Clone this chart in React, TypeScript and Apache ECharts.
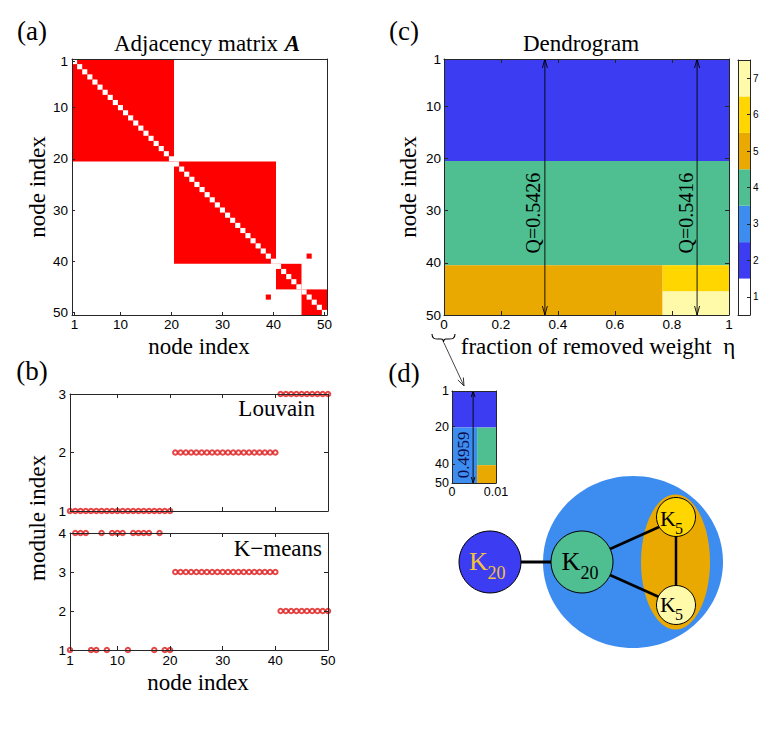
import React, { useEffect, useRef } from 'react';
import * as echarts from 'echarts';

const SERIF = '"Liberation Serif", "Times New Roman", serif';
const SANS = '"Liberation Sans", Arial, sans-serif';
const AX = '#262626';

// ---------------- data ----------------
const nodeIndex = Array.from({ length: 50 }, (_, i) => i + 1);
const nodeTicks = [1, 10, 20, 30, 40, 50];
const insetTicks = [1, 20, 40, 50];

// adjacency matrix: fully connected blocks (no self loops) + extra edges
const adjacencyBlocks = [[1, 20], [21, 40], [41, 45], [46, 50]];
const extraEdges = [[39, 47], [47, 39]];

// module assignments per node (nodes 1..50)
const louvainModules = [
  1, 1, 1, 1, 1, 1, 1, 1, 1, 1, 1, 1, 1, 1, 1, 1, 1, 1, 1, 1,
  2, 2, 2, 2, 2, 2, 2, 2, 2, 2, 2, 2, 2, 2, 2, 2, 2, 2, 2, 2,
  3, 3, 3, 3, 3, 3, 3, 3, 3, 3,
];
const kmeansModules = [
  1, 4, 4, 4, 1, 1, 4, 1, 4, 4, 4, 1, 4, 4, 4, 4, 1, 4, 1, 1,
  3, 3, 3, 3, 3, 3, 3, 3, 3, 3, 3, 3, 3, 3, 3, 3, 3, 3, 3, 3,
  2, 2, 2, 2, 2, 2, 2, 2, 2, 2,
];

// colour levels of the dendrogram colour bar
const moduleLevels = [1, 2, 3, 4, 5, 6, 7];
const levelColors = ['#ffffff', '#3c3cf3', '#3d8cf0', '#4fbf91', '#eaa900', '#ffd600', '#fffaaa'];

// dendrogram: [etaStart, etaEnd, firstNode, lastNode, level]
const dendroSegments = [
  [0, 1, 1, 20, 2],
  [0, 1, 21, 40, 4],
  [0, 0.767, 41, 50, 5],
  [0.767, 1, 41, 45, 6],
  [0.767, 1, 46, 50, 7],
];
// cuts: [eta, Q]
const qCuts = [[0.354, 0.5426], [0.888, 0.5416]];

// inset (first 1% of eta)
const insetSegments = [
  [0, 0.01, 1, 20, 2],
  [0, 0.0057, 21, 50, 3],
  [0.0057, 0.01, 21, 40, 4],
  [0.0057, 0.01, 41, 50, 5],
];
const insetCuts = [[0.0048, 0.4959]];

// ---------------- helpers ----------------
function axis(gridIndex: number, position: string, min: number, max: number, o: any = {}) {
  const ax: any = {
    type: 'value', gridIndex, position, min, max, z: 10,
    inverse: !!o.inverse,
    axisLine: { show: true, onZero: false, lineStyle: { color: AX, width: 1 } },
    axisTick: { show: o.ticks !== false, inside: true, length: o.tickLen ?? 4, lineStyle: { color: AX, width: 1 } },
    axisLabel: { show: !!o.labels, color: '#000', fontFamily: SANS, fontSize: o.fontSize ?? 13.5, margin: o.margin ?? 2 },
    splitLine: { show: false },
  };
  if (o.interval !== undefined) ax.interval = o.interval;
  if (o.values) {
    ax.axisTick.customValues = o.values;
    ax.axisLabel.customValues = o.values;
  }
  return ax;
}

function rectBetween(api: any, x0: number, x1: number, y0: number, y1: number, fill: string) {
  const a = api.coord([x0, y0]);
  const b = api.coord([x1, y1]);
  return {
    type: 'rect',
    shape: { x: Math.min(a[0], b[0]), y: Math.min(a[1], b[1]), width: Math.abs(b[0] - a[0]), height: Math.abs(b[1] - a[1]) },
    style: { fill },
  };
}

function segmentSeries(data: number[][], xi: number, yi: number) {
  return {
    type: 'custom', xAxisIndex: xi, yAxisIndex: yi, data, clip: false,
    renderItem: (_p: any, api: any) => {
      const n0 = Math.max(1, api.value(2) - 0.5);
      const n1 = Math.min(50, api.value(3) + 0.5);
      return rectBetween(api, api.value(0), api.value(1), n0, n1, levelColors[api.value(4) - 1]);
    },
  };
}

function cutSeries(data: number[][], xi: number, yi: number, prefix: string, fontSize: number, textNode: number, ah: number, aw: number, color: string) {
  return {
    type: 'custom', xAxisIndex: xi, yAxisIndex: yi, data, clip: false, z: 5,
    renderItem: (_p: any, api: any) => {
      const eta = api.value(0);
      const q = api.value(1);
      const top = api.coord([eta, 1]);
      const bot = api.coord([eta, 50]);
      const mid = api.coord([eta, textNode]);
      const st = { stroke: '#000', fill: 'none', lineWidth: 0.9 };
      return {
        type: 'group',
        children: [
          { type: 'line', shape: { x1: top[0], y1: top[1], x2: bot[0], y2: bot[1] }, style: st },
          { type: 'polyline', shape: { points: [[top[0] - aw, top[1] + ah], [top[0], top[1]], [top[0] + aw, top[1] + ah]] }, style: st },
          { type: 'polyline', shape: { points: [[bot[0] - aw, bot[1] - ah], [bot[0], bot[1]], [bot[0] + aw, bot[1] - ah]] }, style: st },
          {
            type: 'text', x: mid[0] - 1.5, y: mid[1], rotation: Math.PI / 2,
            style: { text: prefix + q.toFixed(4), fontFamily: SERIF, fontSize, fill: color, align: 'center', verticalAlign: 'bottom' },
          },
        ],
      };
    },
  };
}

function label(text: string, x: number, y: number, size = 23, extra: any = {}) {
  const { rotation, align, ...st } = extra;
  return {
    type: 'text', x, y, rotation: rotation || 0, z: 20,
    style: { text, fontFamily: SERIF, fontSize: size, fill: '#000', align: align || 'center', verticalAlign: 'middle', ...st },
  };
}

echarts.graphic.registerShape(
  'brace',
  echarts.graphic.extendPath('M0,0 C0,5 3,5 6,5 L9,5 C11,5 11.5,6 11.5,8.5 C11.5,6 12,5 14,5 L17,5 C20,5 23,5 23,0', {})
);

export default function App() {
  const ref = useRef<HTMLDivElement>(null);

  useEffect(() => {
    if (!ref.current) return;
    const chart = echarts.init(ref.current, undefined, { renderer: 'svg' });

    const grids = [
      { left: 72, top: 59, width: 255, height: 256 }, // (a)
      { left: 444, top: 59, width: 285, height: 256 }, // (c)
      { left: 70, top: 394, width: 258, height: 117 }, // (b) Louvain
      { left: 70, top: 533, width: 258, height: 117 }, // (b) K-means
      { left: 452, top: 391, width: 44, height: 92 }, // (d) inset
      { left: 738, top: 60, width: 12, height: 255 }, // colour bar
    ].map((g) => ({ ...g, containLabel: false, outerBoundsMode: 'none' }));

    const xAxis = [
      axis(0, 'bottom', 0.5, 50.5, { labels: true, values: nodeTicks, tickLen: 3 }),
      axis(0, 'top', 0.5, 50.5, { ticks: false }),
      axis(1, 'bottom', 0, 1, { labels: true, interval: 0.2 }),
      axis(1, 'top', 0, 1, { interval: 0.2 }),
      axis(2, 'bottom', 1, 50, { values: nodeTicks }),
      axis(2, 'top', 1, 50, { values: nodeTicks }),
      axis(3, 'bottom', 1, 50, { labels: true, values: nodeTicks, margin: 3 }),
      axis(3, 'top', 1, 50, { values: nodeTicks }),
      axis(4, 'bottom', 0, 0.01, { labels: true, interval: 0.01, fontSize: 12.5, tickLen: 3, margin: 2 }),
      axis(4, 'top', 0, 0.01, { ticks: false }),
      axis(5, 'bottom', 0, 1, { ticks: false }),
      axis(5, 'top', 0, 1, { ticks: false }),
    ];
    const yAxis = [
      axis(0, 'left', 0.5, 50.5, { labels: true, values: nodeTicks, inverse: true, tickLen: 3, margin: 4 }),
      axis(0, 'right', 0.5, 50.5, { ticks: false, inverse: true }),
      axis(1, 'left', 1, 50, { labels: true, values: nodeTicks, inverse: true, margin: 3 }),
      axis(1, 'right', 1, 50, { values: nodeTicks, inverse: true }),
      axis(2, 'left', 1, 3, { labels: true, interval: 1, margin: 4 }),
      axis(2, 'right', 1, 3, { interval: 1 }),
      axis(3, 'left', 1, 4, { labels: true, interval: 1, margin: 4 }),
      axis(3, 'right', 1, 4, { interval: 1 }),
      axis(4, 'left', 1, 50, { labels: true, values: insetTicks, inverse: true, fontSize: 12.5, margin: 3, tickLen: 3 }),
      axis(4, 'right', 1, 50, { ticks: false, inverse: true }),
      axis(5, 'right', 0.5, 7.5, { labels: true, values: moduleLevels, fontSize: 10, margin: 3, tickLen: 3 }),
      axis(5, 'left', 0.5, 7.5, { ticks: false }),
    ];

    const series: any[] = [
      // (a) adjacency blocks
      {
        type: 'custom', xAxisIndex: 0, yAxisIndex: 0, data: adjacencyBlocks, clip: false,
        renderItem: (_p: any, api: any) => {
          const s = api.value(0), e = api.value(1);
          return rectBetween(api, s - 0.5, e + 0.5, s - 0.5, e + 0.5, '#ff0000');
        },
      },
      {
        type: 'custom', xAxisIndex: 0, yAxisIndex: 0, data: nodeIndex.map((n) => [n, n]), clip: false,
        renderItem: (_p: any, api: any) => {
          const n = api.value(0);
          return rectBetween(api, n - 0.5, n + 0.5, n - 0.5, n + 0.5, '#ffffff');
        },
      },
      {
        type: 'custom', xAxisIndex: 0, yAxisIndex: 0, data: extraEdges, clip: false,
        renderItem: (_p: any, api: any) => {
          const i = api.value(0), j = api.value(1);
          return rectBetween(api, j - 0.5, j + 0.5, i - 0.5, i + 0.5, '#ff0000');
        },
      },
      // (c) dendrogram
      segmentSeries(dendroSegments, 2, 2),
      cutSeries(qCuts, 2, 2, 'Q=', 20, 30.5, 9, 2.5, '#000'),
      // (b) module assignments
      {
        type: 'scatter', xAxisIndex: 4, yAxisIndex: 4, clip: false,
        data: nodeIndex.map((n, i) => [n, louvainModules[i]]),
        symbol: 'emptyCircle', symbolSize: 4.5,
        itemStyle: { color: '#e01818', borderWidth: 1 },
      },
      {
        type: 'scatter', xAxisIndex: 6, yAxisIndex: 6, clip: false,
        data: nodeIndex.map((n, i) => [n, kmeansModules[i]]),
        symbol: 'emptyCircle', symbolSize: 4.5,
        itemStyle: { color: '#e01818', borderWidth: 1 },
      },
      // (d) inset
      segmentSeries(insetSegments, 8, 8),
      cutSeries(insetCuts, 8, 8, '', 17, 35, 6, 1.8, '#0c0c4a'),
      // colour bar
      {
        type: 'custom', xAxisIndex: 10, yAxisIndex: 10, data: moduleLevels.map((l) => [0, l]), clip: false,
        renderItem: (_p: any, api: any) => {
          const l = api.value(1);
          return rectBetween(api, 0, 1, l - 0.5, l + 0.5, levelColors[l - 1]);
        },
      },
    ];

    // arrow from brace to inset
    const from = [444, 343];
    const to = [464, 386];
    const dx = to[0] - from[0], dy = to[1] - from[1];
    const len = Math.hypot(dx, dy);
    const ux = dx / len, uy = dy / len;
    const nx = -uy, ny = ux;
    const head = [
      [to[0] - 8 * ux + 3 * nx, to[1] - 8 * uy + 3 * ny],
      [to[0], to[1]],
      [to[0] - 8 * ux - 3 * nx, to[1] - 8 * uy - 3 * ny],
    ];

    const graphics: any[] = [
      label('(a)', 32, 31, 27),
      {
        type: 'text', x: 207, y: 43, z: 20,
        style: {
          text: '{n|Adjacency matrix}  {b|A}', align: 'center', verticalAlign: 'middle',
          rich: {
            n: { fontFamily: SERIF, fontSize: 23, fill: '#000', color: '#000' },
            b: { fontFamily: SERIF, fontSize: 23, fontStyle: 'italic', fontWeight: 'bold', fill: '#000', color: '#000' },
          },
        },
      },
      label('node index', 37, 187, 23, { rotation: Math.PI / 2 }),
      label('node index', 199, 346),
      label('(c)', 404, 31, 27),
      label('Dendrogram', 581, 43),
      label('node index', 408, 187, 23, { rotation: Math.PI / 2 }),
      label('fraction of removed weight  \u03b7', 598, 346),
      label('(b)', 32, 371, 27),
      label('module index', 37, 518, 23, { rotation: Math.PI / 2 }),
      label('node index', 198, 682),
      label('Louvain', 315, 408, 23, { align: 'right' }),
      label('K\u2212means', 322, 548, 23, { align: 'right' }),
      label('(d)', 404, 373, 27),
      // brace + arrow
      { type: 'brace', x: 432, y: 334, z: 20, style: { fill: 'none', stroke: '#000', lineWidth: 1.1 } },
      { type: 'line', z: 20, shape: { x1: from[0], y1: from[1], x2: to[0], y2: to[1] }, style: { stroke: '#333', lineWidth: 0.9 } },
      { type: 'polyline', z: 20, shape: { points: head }, style: { stroke: '#333', fill: 'none', lineWidth: 1 } },
      // network sketch
      { type: 'ellipse', shape: { cx: 633, cy: 562, rx: 90, ry: 86 }, style: { fill: levelColors[2] } },
      { type: 'ellipse', shape: { cx: 675.5, cy: 562, rx: 34.5, ry: 67.5 }, style: { fill: levelColors[4] } },
      { type: 'line', shape: { x1: 520, y1: 562, x2: 552, y2: 562 }, style: { stroke: '#000', lineWidth: 3 } },
      { type: 'line', shape: { x1: 610, y1: 549, x2: 659, y2: 527 }, style: { stroke: '#000', lineWidth: 2.5 } },
      { type: 'line', shape: { x1: 610, y1: 575, x2: 659, y2: 597 }, style: { stroke: '#000', lineWidth: 2.5 } },
      { type: 'line', shape: { x1: 676, y1: 535, x2: 676, y2: 587 }, style: { stroke: '#000', lineWidth: 2.5 } },
      { type: 'circle', shape: { cx: 490, cy: 562, r: 31 }, style: { fill: levelColors[1], stroke: '#000', lineWidth: 1 } },
      { type: 'circle', shape: { cx: 582, cy: 562, r: 31 }, style: { fill: levelColors[3], stroke: '#000', lineWidth: 1 } },
      { type: 'circle', shape: { cx: 676, cy: 517, r: 19.5 }, style: { fill: levelColors[5], stroke: '#000', lineWidth: 1 } },
      { type: 'circle', shape: { cx: 676, cy: 605, r: 19.5 }, style: { fill: levelColors[6], stroke: '#000', lineWidth: 1 } },
      label('K', 478.5, 561, 26, { fill: '#f3c23a' }),
      label('20', 496.5, 573, 18, { fill: '#f3c23a' }),
      label('K', 571, 561, 26),
      label('20', 589.5, 573, 18),
      label('K', 668, 518, 22),
      label('5', 679, 528, 16),
      label('K', 668, 604, 22),
      label('5', 679, 614, 16),
    ];

    chart.setOption({
      animation: false,
      backgroundColor: '#ffffff',
      textStyle: { fontFamily: SANS },
      grid: grids,
      xAxis,
      yAxis,
      series,
      graphic: { elements: graphics },
    });

    return () => chart.dispose();
  }, []);

  return <div ref={ref} style={{ position: 'absolute', left: 0, top: 0, width: 777, height: 738 }} />;
}
